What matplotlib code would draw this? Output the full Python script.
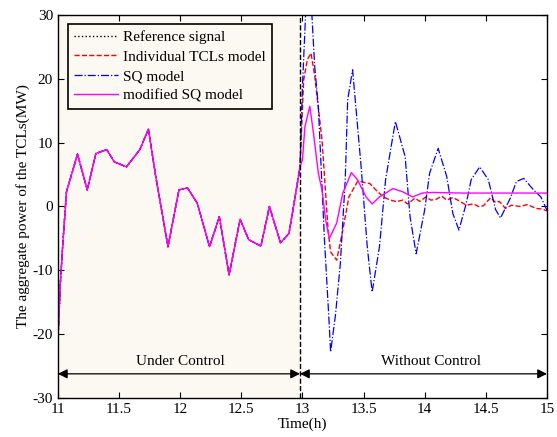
import numpy as np
import matplotlib.pyplot as plt

plt.rcParams['font.family'] = ['Liberation Serif', 'DejaVu Serif']
plt.rcParams['axes.unicode_minus'] = False

# controlled period: all models follow the reference signal
t_ctrl = [11.0, 11.02, 11.04, 11.07, 11.11, 11.16, 11.24, 11.31, 11.40, 11.46, 11.56,
          11.67, 11.74, 11.80, 11.90, 11.99, 12.06, 12.14, 12.24, 12.32, 12.40,
          12.49, 12.56, 12.66, 12.73, 12.82, 12.89, 12.94, 12.98]
p_ctrl = [-21.0, -12.0, -5.8, 2.3, 4.9, 8.2, 2.6, 8.3, 8.9, 7.0, 6.2,
          8.9, 12.1, 4.7, -6.3, 2.6, 2.9, 0.5, -6.3, -1.6, -10.7,
          -2.0, -5.2, -6.2, 0.0, -5.7, -4.2, 1.5, 6.2]

# after control is released
t_tcl = [13.01, 13.04, 13.07, 13.10, 13.16, 13.21, 13.23, 13.28, 13.33, 13.38, 13.45,
         13.47, 13.55, 13.60, 13.66, 13.72, 13.77, 13.82, 13.86, 13.92, 13.96, 14.01,
         14.05, 14.09, 14.14, 14.18, 14.23, 14.28, 14.34, 14.40, 14.44, 14.48, 14.54,
         14.58, 14.61, 14.66, 14.71, 14.78, 14.84, 14.91, 14.96, 15.0]
p_tcl = [19.8, 23.0, 24.0, 20.5, 10.4, -3.7, -7.1, -8.4, -3.7, 1.5, 3.9,
         3.9, 3.6, 2.6, 1.5, 1.0, 0.75, 1.0, 0.4, 1.3, 0.8, 1.5,
         1.0, 1.1, 1.6, 1.0, 1.4, 0.9, 0.2, 0.4, 0.0, 0.1, 1.4,
         0.6, 0.8, -0.3, 0.2, 0.0, 0.3, -0.3, -0.4, -0.7]

t_sq = [13.0, 13.03, 13.06, 13.10, 13.13, 13.18, 13.22, 13.23, 13.27, 13.31, 13.35,
        13.37, 13.41, 13.48, 13.53, 13.57, 13.63, 13.68, 13.76, 13.84, 13.88, 13.93,
        14.0, 14.04, 14.11, 14.18, 14.23, 14.28, 14.34, 14.38, 14.45, 14.52, 14.58,
        14.62, 14.70, 14.75, 14.81, 14.89, 14.95, 15.0]
p_sq = [18.8, 32.0, 36.0, 22.0, 15.6, -5.2, -18.8, -22.8, -17.0, -8.9, 4.2,
        16.7, 21.4, 6.2, -6.3, -13.4, -6.3, 4.2, 13.3, 7.8, -1.6, -7.4,
        -0.5, 5.2, 9.1, 4.7, -1.1, -3.7, 0.5, 4.2, 6.2, 4.2, -0.5,
        -1.8, 1.3, 3.9, 4.4, 2.6, 1.5, -0.6]

t_msq = [13.0, 13.02, 13.06, 13.09, 13.13, 13.16, 13.19, 13.22, 13.28, 13.33, 13.40,
         13.45, 13.52, 13.57, 13.63, 13.74, 13.82, 13.90, 13.98, 14.06, 14.31, 14.6, 15.0]
p_msq = [7.3, 12.5, 15.7, 11.5, 5.2, 2.6, -2.1, -5.0, -2.6, 2.1, 5.3,
         4.2, 1.5, 0.4, 1.5, 2.8, 2.3, 1.5, 2.1, 2.2, 2.1, 2.1, 2.1]

t_switch = 12.98

fig = plt.figure(figsize=(5.57, 4.37), dpi=100)
ax = fig.add_axes([0.104, 0.089, 0.878, 0.877])

ax.axvspan(11, t_switch, color='#fcf8f2', zorder=0)

ax.plot(t_ctrl, p_ctrl, ':', color='k', lw=1.0, label='Reference signal')
ax.plot(t_ctrl + t_tcl, p_ctrl + p_tcl, '--', color='#ff0000', lw=1.0,
        label='Individual TCLs model')
ax.plot(t_ctrl + t_sq, p_ctrl + p_sq, '-.', color='#0000ff', lw=0.9, label='SQ model')
ax.plot(t_ctrl + t_msq, p_ctrl + p_msq, '-', color='#ff00ff', lw=1.0,
        label='modified SQ model')

ax.axvline(t_switch, color='k', ls='--', lw=1.0)

ax.annotate('', xy=(11, -26.2), xytext=(t_switch, -26.2),
            arrowprops=dict(arrowstyle='<|-|>', color='k', lw=0.9,
                            mutation_scale=14, shrinkA=0, shrinkB=0))
ax.annotate('', xy=(t_switch, -26.2), xytext=(15, -26.2),
            arrowprops=dict(arrowstyle='<|-|>', color='k', lw=0.9,
                            mutation_scale=14, shrinkA=0, shrinkB=0))
ax.text(12.0, -24.2, 'Under Control', ha='center', va='center', fontsize=11)
ax.text(14.05, -24.2, 'Without Control', ha='center', va='center', fontsize=11)

ax.set_xlim(11, 15)
ax.set_ylim(-30, 30)
ax.set_xticks(np.arange(11, 15.01, 0.5))
ax.set_xticklabels(['11', '11.5', '12', '12.5', '13', '13.5', '14', '14.5', '15'])
ax.set_yticks(np.arange(-30, 31, 10))
ax.tick_params(direction='in', top=True, right=True, labelsize=11, length=4)
ax.set_xlabel('Time(h)', fontsize=11, labelpad=1)
ax.set_ylabel('The aggregate power of the TCLs(MW)', fontsize=11, labelpad=2)
for s in ax.spines.values():
    s.set_linewidth(1.0)

leg = ax.legend(loc='upper left', fontsize=11, frameon=True, fancybox=False,
                edgecolor='k', handlelength=2.9, handletextpad=0.3, borderpad=0.4,
                labelspacing=0.38, bbox_to_anchor=(0.005, 0.995))
leg.get_frame().set_linewidth(1.2)
leg.get_frame().set_facecolor('#fcf8f2')
leg.get_frame().set_alpha(1)

fig.savefig('out.png', dpi=100)
